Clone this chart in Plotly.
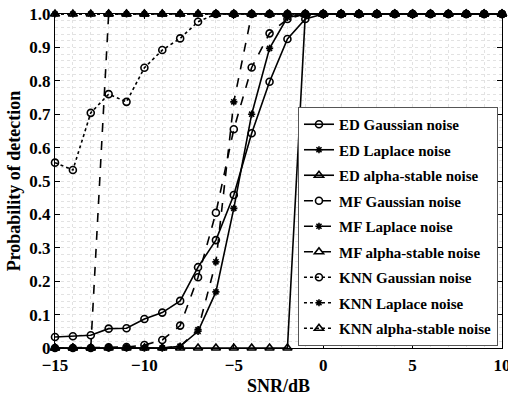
import plotly.graph_objects as go

snr = list(range(-15, 11))

ed_gauss = [0.033, 0.035, 0.038, 0.058, 0.059, 0.087, 0.106, 0.141, 0.242, 0.323, 0.458, 0.643, 0.797, 0.925, 0.985] + [1.0] * 11
ed_laplace = [0.0] * 7 + [0.005, 0.05, 0.168, 0.418, 0.70, 0.897, 0.99] + [1.0] * 12
ed_alpha = [0.0] * 14 + [1.0] * 12
mf_gauss = [0.0, 0.0, 0.0, 0.002, 0.003, 0.009, 0.024, 0.067, 0.212, 0.405, 0.655, 0.84, 0.942, 0.985] + [1.0] * 12
mf_laplace = [0.0] * 7 + [0.005, 0.055, 0.258, 0.737] + [1.0] * 15
mf_alpha = [0.0] * 3 + [1.0] * 23
knn_gauss = [0.555, 0.533, 0.704, 0.76, 0.737, 0.839, 0.892, 0.927, 0.977] + [1.0] * 17
knn_laplace = [1.0] * 26
knn_alpha = [1.0] * 26

names = ["ED Gaussian noise", "ED Laplace noise", "ED alpha-stable noise",
         "MF Gaussian noise", "MF Laplace noise", "MF alpha-stable noise",
         "KNN Gaussian noise", "KNN Laplace noise", "KNN alpha-stable noise"]
series = [ed_gauss, ed_laplace, ed_alpha, mf_gauss, mf_laplace, mf_alpha,
          knn_gauss, knn_laplace, knn_alpha]
dashes = ["solid"] * 3 + ["dash"] * 3 + ["dot"] * 3
symbols = ["circle-open", "asterisk-open", "triangle-up-open"] * 3
sizes = [7, 6, 8] * 3

yticks = [i / 10 for i in range(11)]
yticktext = ["0", "0.1", "0.2", "0.3", "0.4", "0.5", "0.6", "0.7", "0.8", "0.9", "1.0"]
xticks = [-15, -10, -5, 0, 5, 10]

fig = go.Figure()
for i, (nm, ys) in enumerate(zip(names, series)):
    fig.add_trace(go.Scatter(
        x=snr, y=ys, name=nm, mode="lines+markers",
        legendgroup=f"g{i}",
        line=dict(color="black", width=1.6, dash=dashes[i]),
        marker=dict(symbol=symbols[i], size=sizes[i], color="black",
                    line=dict(color="black", width=1.6)),
        cliponaxis=False,
    ))

font = "Liberation Serif, Times New Roman, serif"
grid_col = "#e2e2e2"
axis_common = dict(
    showline=True, linecolor="black", linewidth=1, mirror="ticks",
    ticks="inside", ticklen=5, tickcolor="black",
    showgrid=True, gridcolor=grid_col, griddash="dot", gridwidth=1,
    zeroline=False, ticklabeloverflow="allow", automargin=False,
    tickfont=dict(family=font, size=17, color="black", weight="bold"),
)
fig.update_layout(
    width=508, height=396,
    margin=dict(l=55, r=6, t=14, b=48),
    paper_bgcolor="white", plot_bgcolor="white",
    font=dict(family=font, color="black"),
    showlegend=True,
    legend=dict(
        x=0.991, y=0.006, xanchor="right", yanchor="bottom",
        bgcolor="white", bordercolor="#555555", borderwidth=1,
        font=dict(family=font, size=15, color="black", weight="bold"),
        tracegroupgap=3, itemwidth=30,
    ),
    xaxis=dict(
        range=[-15, 10], tickvals=xticks, ticklabelstandoff=2,
        minor=dict(dtick=1, showgrid=True, gridcolor=grid_col, griddash="dot", ticks=""),
        title=dict(text="SNR/dB", font=dict(family=font, size=18, color="black", weight="bold"), standoff=4),
        **axis_common,
    ),
    yaxis=dict(
        range=[0, 1], tickvals=yticks, ticktext=yticktext,
        minor=dict(dtick=0.02, showgrid=True, gridcolor=grid_col, griddash="dot", ticks=""),
        title=dict(text="Probability of detection", font=dict(family=font, size=18, color="black", weight="bold"), standoff=4),
        **axis_common,
    ),
)

fig.write_html("out.html")
